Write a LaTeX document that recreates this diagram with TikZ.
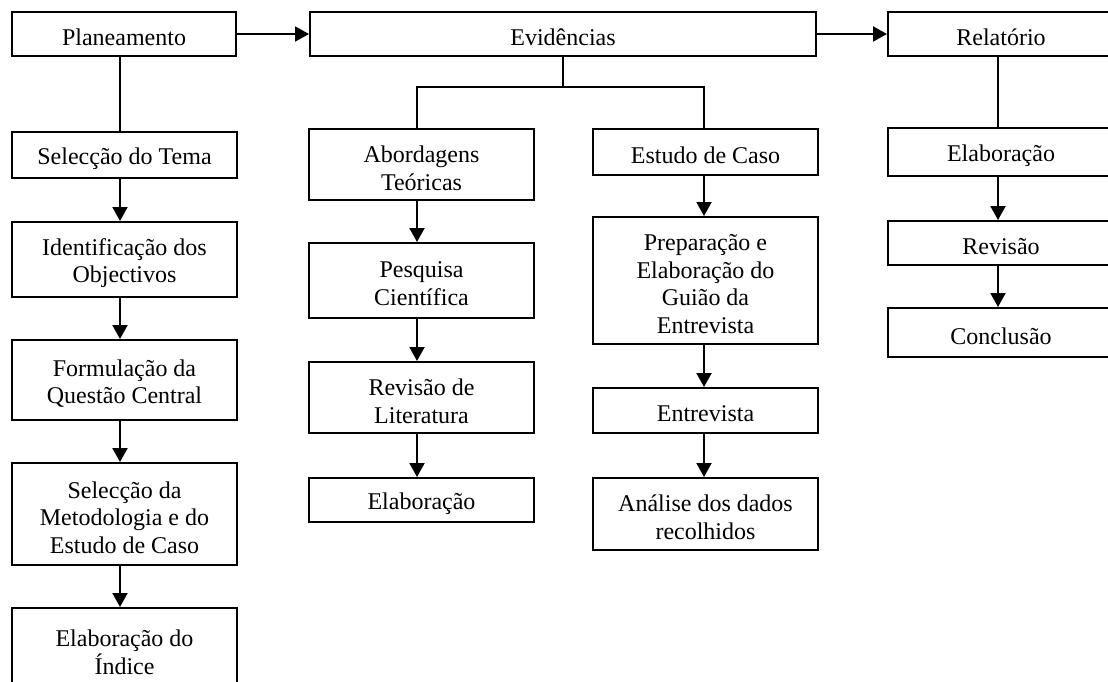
\documentclass[tikz,border=0pt]{standalone}
\usepackage{fontspec}
\setmainfont{Liberation Serif}
\usetikzlibrary{arrows.meta}
\newcommand\mkbox[6]{\node[box,minimum width={(#4-#2)*0.5pt},minimum height={(#5-#3)*0.5pt}] (#1) at ({(#2+#4)/2},{(#3+#5)/2}) {};
  \node[txt] (#1t) at ([yshift=-1.75pt]#1.center) {#6};}
\begin{document}
\begin{tikzpicture}[x=0.5pt,y=-0.5pt,
  box/.style={draw, line width=1pt, inner sep=0pt},
  txt/.style={inner sep=0pt, align=center, font=\fontsize{12}{13.85}\selectfont},
  conn/.style={line width=1pt},
  arr/.style={conn, -{Triangle[length=7pt,width=7.5pt]}}]
\useasboundingbox (0,0) rectangle (1108,681);
\clip (0,0) rectangle (1108,681);
% column axes
\coordinate (cL) at (120,0);
\coordinate (cA) at (417,0);
\coordinate (cE) at (704,0);
\coordinate (cR) at (998,0);
% top row
\mkbox{plan}{12}{12}{236}{56}{Planeamento}
\mkbox{evid}{310}{12}{816}{56}{Evidências}
\mkbox{rel}{888}{12}{1114}{56}{Relatório}
% left column
\mkbox{l1}{12}{132}{237}{178}{Selecção do Tema}
\mkbox{l2}{12}{222}{237}{297}{Identificação dos\\Objectivos}
\mkbox{l3}{12}{340}{237}{420}{Formulação da\\Questão Central}
\mkbox{l4}{12}{463}{237}{565}{Selecção da\\Metodologia e do\\Estudo de Caso}
\mkbox{l5}{12}{608}{237}{690}{Elaboração do\\Índice}
% middle column A
\mkbox{a1}{309}{129}{534}{200}{Abordagens\\Teóricas}
\mkbox{a2}{309}{243}{534}{318}{Pesquisa\\Científica}
\mkbox{a3}{309}{362}{534}{433}{Revisão de\\Literatura}
\mkbox{a4}{309}{478}{534}{522}{Elaboração}
% middle column E
\mkbox{e1}{593}{129}{818}{175}{Estudo de Caso}
\mkbox{e2}{593}{217}{818}{344}{Preparação e\\Elaboração do\\Guião da\\Entrevista}
\mkbox{e3}{593}{388}{818}{433}{Entrevista}
\mkbox{e4}{593}{478}{818}{550}{Análise dos dados\\recolhidos}
% right column
\mkbox{r1}{888}{128}{1114}{176}{Elaboração}
\mkbox{r2}{888}{221}{1114}{265}{Revisão}
\mkbox{r3}{888}{308}{1114}{357}{Conclusão}
% top arrows
\draw[arr] (plan.east) -- (evid.west);
\draw[arr] (evid.east) -- (rel.west);
% stems
\draw[conn] (cL |- plan.south) -- (cL |- l1.north);
\draw[conn] (cR |- rel.south) -- (cR |- r1.north);
\draw[conn] (evid.south) -- (563,87) coordinate (ej);
\draw[conn] (cA |- a1.north) -- (cA |- ej) -- (cE |- ej) -- (cE |- e1.north);
% left arrows
\draw[arr] (cL |- l1.south) -- (cL |- l2.north);
\draw[arr] (cL |- l2.south) -- (cL |- l3.north);
\draw[arr] (cL |- l3.south) -- (cL |- l4.north);
\draw[arr] (cL |- l4.south) -- (cL |- l5.north);
% column A arrows
\draw[arr] (cA |- a1.south) -- (cA |- a2.north);
\draw[arr] (cA |- a2.south) -- (cA |- a3.north);
\draw[arr] (cA |- a3.south) -- (cA |- a4.north);
% column E arrows
\draw[arr] (cE |- e1.south) -- (cE |- e2.north);
\draw[arr] (cE |- e2.south) -- (cE |- e3.north);
\draw[arr] (cE |- e3.south) -- (cE |- e4.north);
% right arrows
\draw[arr] (cR |- r1.south) -- (cR |- r2.north);
\draw[arr] (cR |- r2.south) -- (cR |- r3.north);
\end{tikzpicture}
\end{document}
